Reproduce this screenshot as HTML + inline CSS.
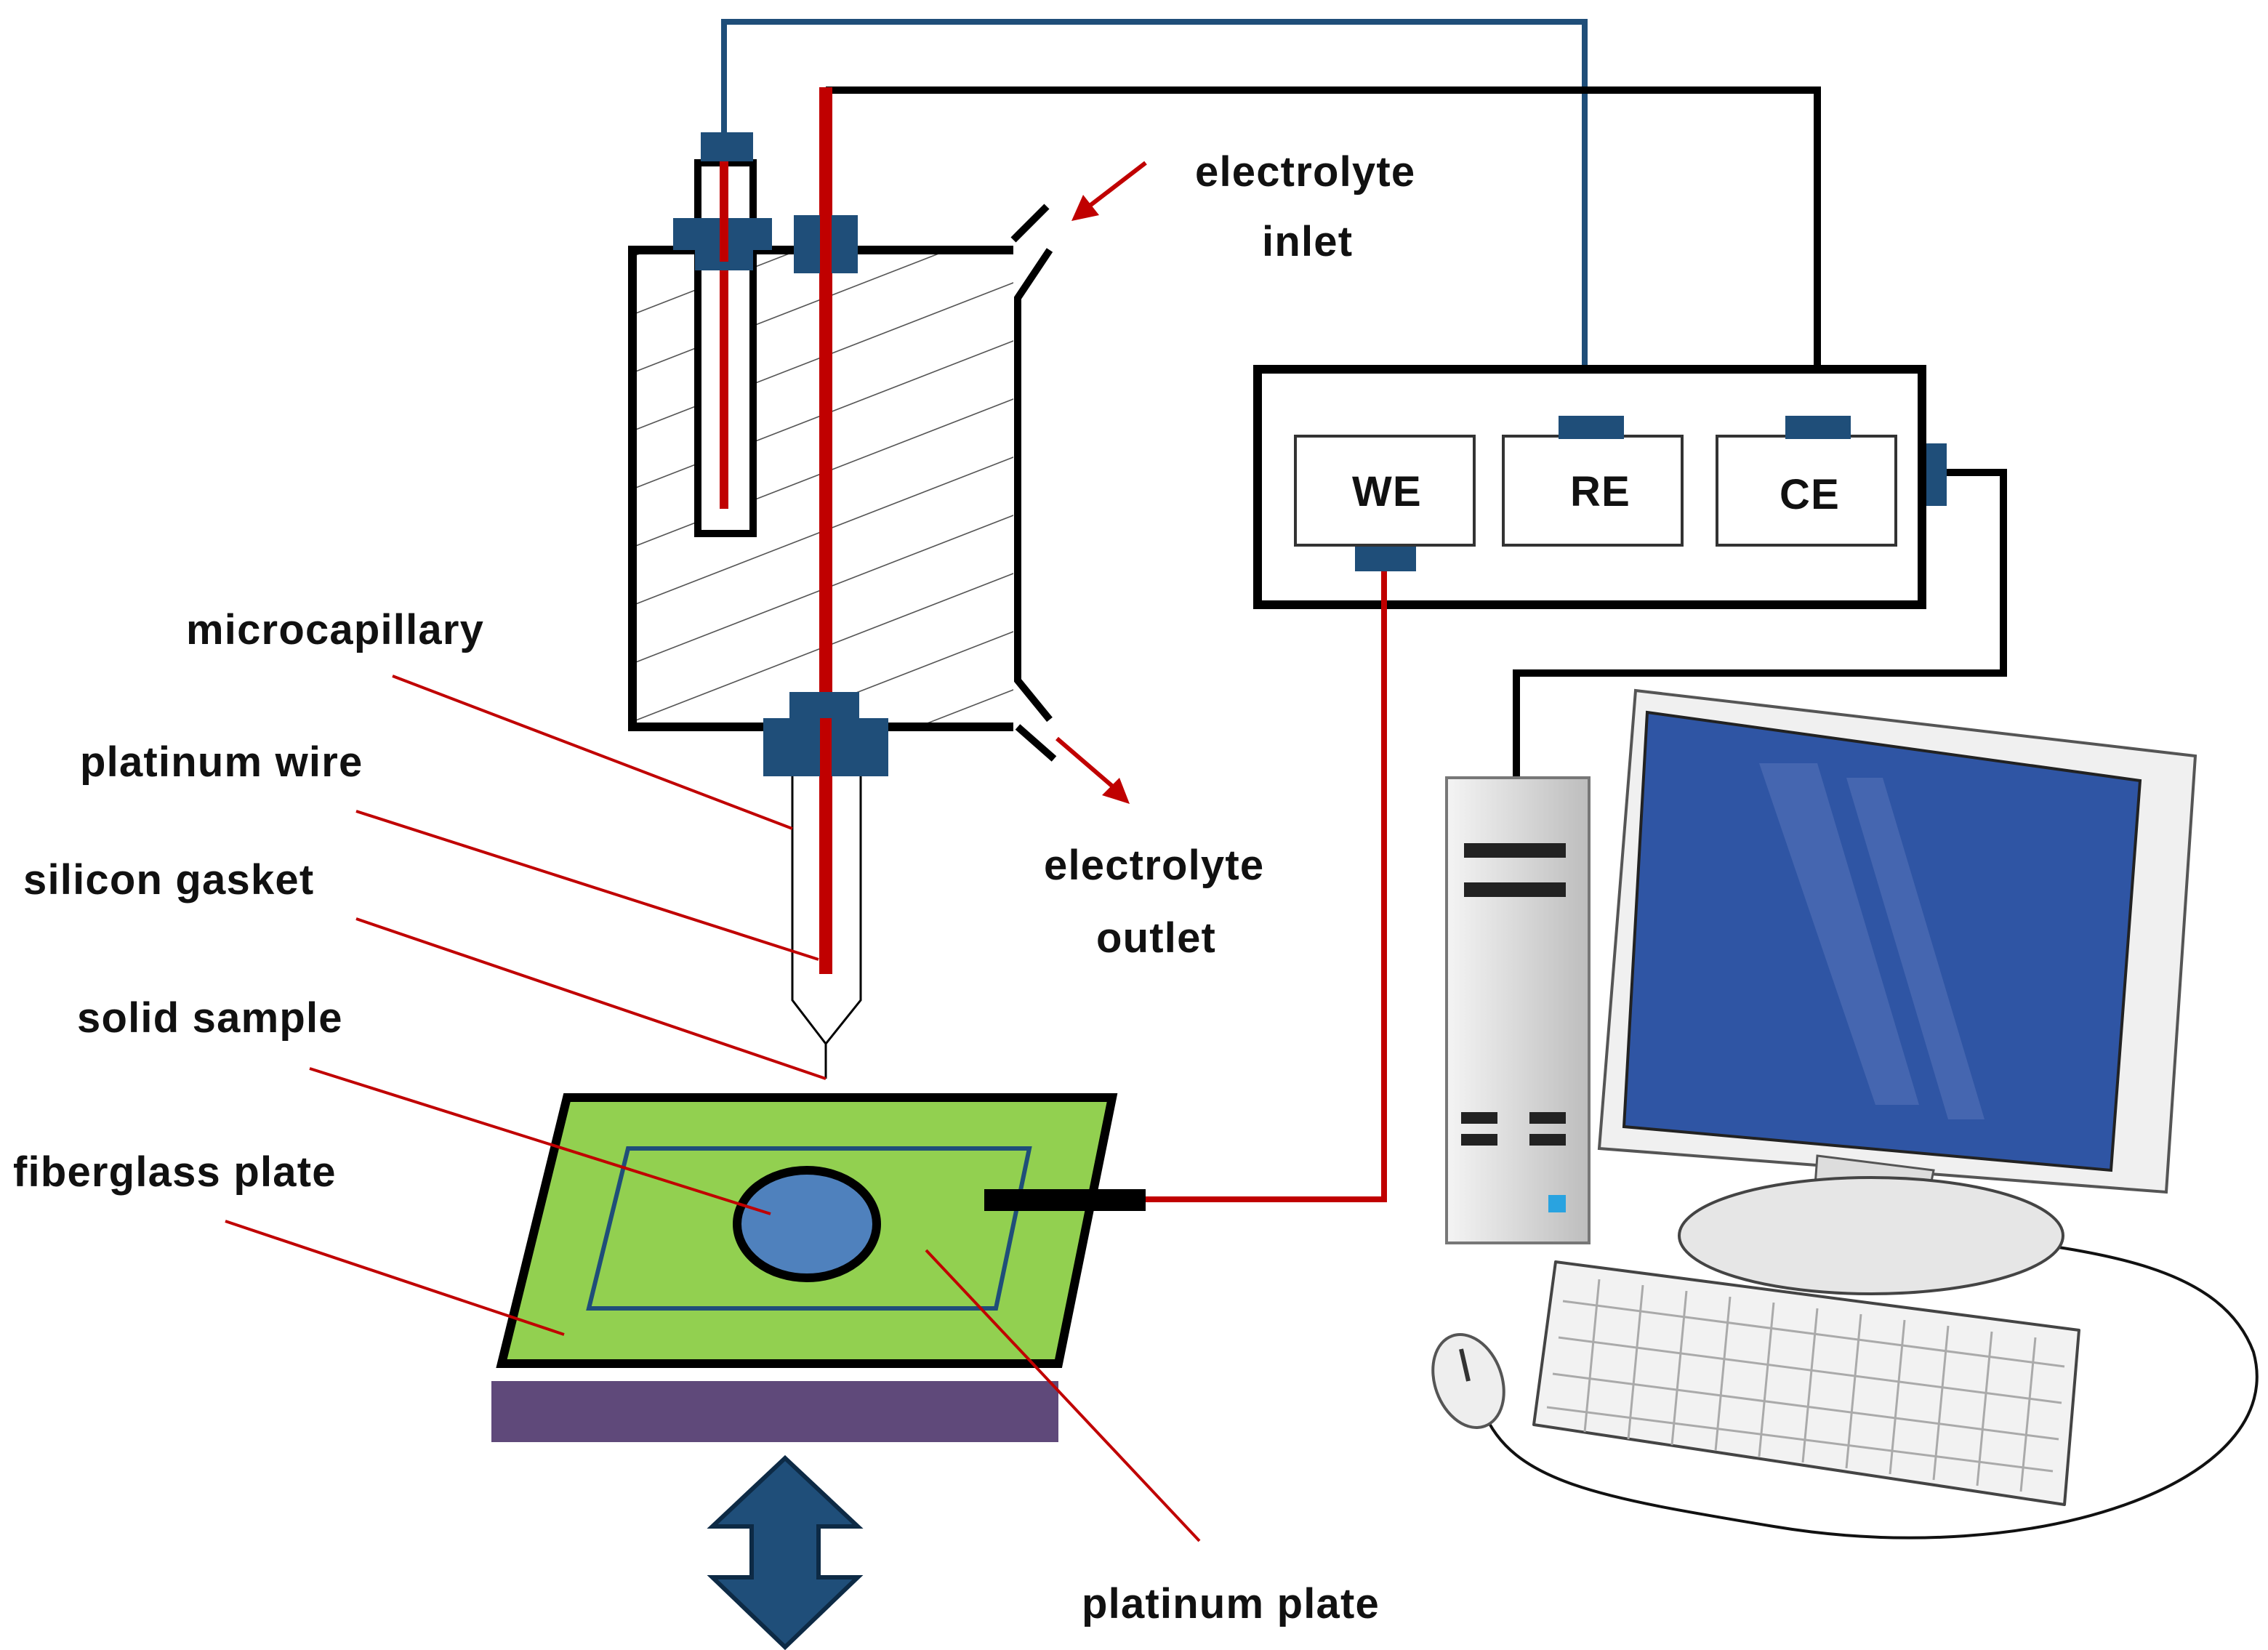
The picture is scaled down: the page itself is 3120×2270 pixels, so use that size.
<!DOCTYPE html>
<html><head><meta charset="utf-8"><style>
html,body{margin:0;padding:0;background:#fff;}
svg{display:block;}
text{font-family:"Liberation Sans",sans-serif;font-weight:bold;font-size:29px;letter-spacing:0.6px;fill:#111;}
</style></head><body>
<svg width="3120" height="2270" viewBox="0 0 1560 1135" xmlns="http://www.w3.org/2000/svg">
<defs>
<clipPath id="cellclip"><polygon points="437,174 697,174 697,498 437,498"/></clipPath>
<linearGradient id="tower" x1="0" x2="1"><stop offset="0" stop-color="#f4f4f4"/><stop offset="0.5" stop-color="#d9d9d9"/><stop offset="1" stop-color="#bdbdbd"/></linearGradient>
</defs>
<polyline points="498,95 498,15 1090,15 1090,290" fill="none" stroke="#1f4e79" stroke-width="4"/>
<polyline points="568,62 1250,62 1250,290" fill="none" stroke="#000" stroke-width="5"/>
<g clip-path="url(#cellclip)" stroke="#555" stroke-width="0.8">
<line x1="400" y1="230" x2="760" y2="90"/><line x1="400" y1="270" x2="760" y2="130"/>
<line x1="400" y1="310" x2="760" y2="170"/><line x1="400" y1="350" x2="760" y2="210"/>
<line x1="400" y1="390" x2="760" y2="250"/><line x1="400" y1="430" x2="760" y2="290"/>
<line x1="400" y1="470" x2="760" y2="330"/><line x1="400" y1="510" x2="760" y2="370"/>
<line x1="400" y1="550" x2="760" y2="410"/><line x1="400" y1="590" x2="760" y2="450"/>
<line x1="400" y1="630" x2="760" y2="490"/><line x1="400" y1="190" x2="760" y2="50"/>
</g>
<polyline points="697,172 435,172 435,500 697,500" fill="none" stroke="#000" stroke-width="6"/>
<polyline points="722,172 700,205 700,468 722,495" fill="none" stroke="#000" stroke-width="5"/>
<line x1="697" y1="165" x2="720" y2="142" stroke="#000" stroke-width="5"/>
<line x1="700" y1="500" x2="725" y2="522" stroke="#000" stroke-width="5"/>
<rect x="480" y="112" width="38" height="255" fill="#fff" stroke="#000" stroke-width="5"/>
<line x1="498" y1="100" x2="498" y2="350" stroke="#c00000" stroke-width="6"/>
<polyline points="545,530 545,688 568,718 592,688 592,530" fill="#fff" stroke="#000" stroke-width="1.5"/>
<line x1="568" y1="718" x2="568" y2="742" stroke="#000" stroke-width="1.5"/>
<line x1="568" y1="60" x2="568" y2="670" stroke="#c00000" stroke-width="9"/>
<g fill="#1f4e79">
<rect x="482" y="91" width="36" height="20"/>
<rect x="463" y="150" width="68" height="22"/><rect x="478" y="150" width="40" height="36"/>
<rect x="546" y="148" width="44" height="40"/>
<rect x="543" y="476" width="48" height="20"/><rect x="525" y="494" width="86" height="40"/>
<rect x="1320" y="305" width="19" height="43"/>
</g>
<line x1="498" y1="150" x2="498" y2="180" stroke="#c00000" stroke-width="6"/>
<line x1="568" y1="148" x2="568" y2="188" stroke="#c00000" stroke-width="8"/>
<line x1="568" y1="494" x2="568" y2="534" stroke="#c00000" stroke-width="8"/>
<g stroke="#c00000" stroke-width="3" fill="#c00000">
<line x1="788" y1="112" x2="745" y2="145"/><polygon points="737,152 745,134 756,148" stroke="none"/>
<line x1="727" y1="508" x2="770" y2="545"/><polygon points="777,553 758,547 770,535" stroke="none"/>
</g>
<rect x="865" y="254" width="457" height="162" fill="#fff" stroke="#000" stroke-width="6"/>
<g fill="#fff" stroke="#333" stroke-width="2">
<rect x="891" y="300" width="123" height="75"/><rect x="1034" y="300" width="123" height="75"/><rect x="1181" y="300" width="123" height="75"/>
</g>
<g fill="#1f4e79"><rect x="1072" y="286" width="45" height="16"/><rect x="1228" y="286" width="45" height="16"/><rect x="932" y="376" width="42" height="17"/></g>
<text x="930" y="348">WE</text><text x="1080" y="348">RE</text><text x="1224" y="350">CE</text>
<polyline points="1339,325 1378,325 1378,463 1043,463 1043,537" fill="none" stroke="#000" stroke-width="5"/>
<polyline points="952,393 952,825 788,825" fill="none" stroke="#c00000" stroke-width="4"/>
<polygon points="390,755 765,755 728,938 345,938" fill="#92d050" stroke="#000" stroke-width="6"/>
<polygon points="432,790 708,790 685,900 405,900" fill="none" stroke="#1f4e79" stroke-width="3"/>
<ellipse cx="555" cy="842" rx="48" ry="37" fill="#4f81bd" stroke="#000" stroke-width="6"/>
<rect x="677" y="818" width="111" height="15" fill="#000"/>
<rect x="338" y="950" width="390" height="42" fill="#5f497a"/>
<polygon points="540,1003 590,1050 563,1050 563,1085 590,1085 540,1133 490,1085 517,1085 517,1050 490,1050" fill="#1f4e79" stroke="#0d2a45" stroke-width="3"/>
<g stroke="#c00000" stroke-width="2" fill="none">
<line x1="270" y1="465" x2="545" y2="570"/>
<line x1="245" y1="558" x2="563" y2="660"/>
<line x1="245" y1="632" x2="568" y2="742"/>
<line x1="213" y1="735" x2="530" y2="835"/>
<line x1="155" y1="840" x2="388" y2="918"/>
<line x1="637" y1="860" x2="825" y2="1060"/>
</g>
<text x="822" y="128">electrolyte</text><text x="868" y="176">inlet</text>
<text x="718" y="605">electrolyte</text><text x="754" y="655">outlet</text>
<text x="128" y="443">microcapillary</text>
<text x="55" y="534">platinum wire</text>
<text x="16" y="615">silicon gasket</text>
<text x="53" y="710">solid sample</text>
<text x="9" y="816">fiberglass plate</text>
<text x="744" y="1113">platinum plate</text>
<rect x="995" y="535" width="98" height="320" fill="url(#tower)" stroke="#777" stroke-width="2"/>
<rect x="1007" y="580" width="70" height="10" fill="#222"/><rect x="1007" y="607" width="70" height="10" fill="#222"/>
<rect x="1005" y="765" width="25" height="8" fill="#222"/><rect x="1052" y="765" width="25" height="8" fill="#222"/>
<rect x="1005" y="780" width="25" height="8" fill="#222"/><rect x="1052" y="780" width="25" height="8" fill="#222"/>
<rect x="1065" y="822" width="12" height="12" fill="#29a3e0"/>
<path d="M1255,835 C1380,860 1520,850 1550,930 C1575,1020 1400,1080 1220,1050 C1100,1030 1040,1020 1020,970" fill="none" stroke="#111" stroke-width="2"/>
<polygon points="1125,475 1510,520 1490,820 1100,790" fill="#f0f0f0" stroke="#555" stroke-width="2"/>
<polygon points="1133,490 1472,537 1452,805 1117,775" fill="#2f55a4" stroke="#222" stroke-width="2"/>
<polygon points="1210,525 1250,525 1320,760 1290,760" fill="#5b77bb" opacity="0.5"/>
<polygon points="1270,535 1295,535 1365,770 1340,770" fill="#5b77bb" opacity="0.5"/>
<polygon points="1250,795 1330,805 1325,830 1248,822" fill="#ddd" stroke="#555" stroke-width="1.5"/>
<ellipse cx="1287" cy="850" rx="132" ry="40" fill="#e6e6e6" stroke="#444" stroke-width="2"/>
<polygon points="1070,868 1430,915 1420,1035 1055,980" fill="#f2f2f2" stroke="#444" stroke-width="2" stroke-linejoin="round"/>
<g fill="none" stroke="#aaa" stroke-width="1.5">
<path d="M1075,895 L1420,940 M1072,920 L1418,965 M1068,945 L1416,990 M1064,968 L1412,1012"/>
<path d="M1100,880 L1090,985 M1130,884 L1120,990 M1160,888 L1150,994 M1190,892 L1180,998 M1220,896 L1210,1002 M1250,900 L1240,1006 M1280,904 L1270,1010 M1310,908 L1300,1014 M1340,912 L1330,1018 M1370,916 L1360,1022 M1400,920 L1390,1026"/>
</g>
<ellipse cx="1010" cy="950" rx="23" ry="33" fill="#eee" stroke="#555" stroke-width="2" transform="rotate(-20 1010 950)"/>
<line x1="1005" y1="928" x2="1010" y2="950" stroke="#333" stroke-width="3"/>
</svg>
</body></html>
